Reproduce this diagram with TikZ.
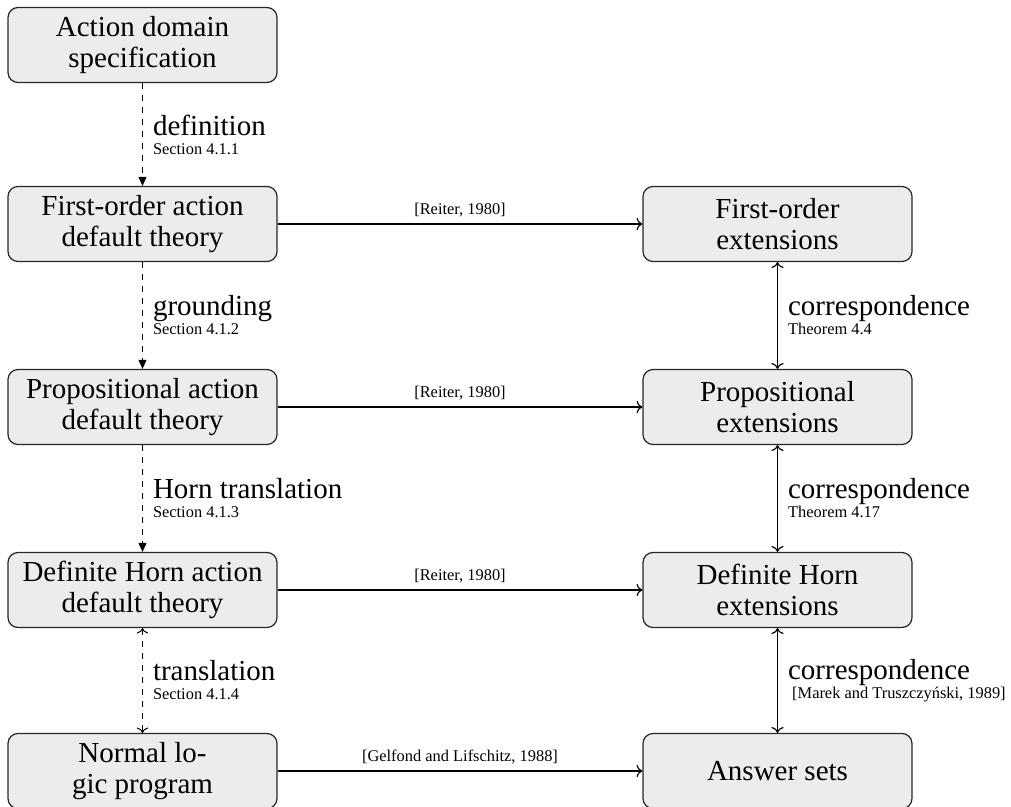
\documentclass[tikz,border=0pt]{standalone}
\usepackage{fontspec}
\setmainfont{Liberation Serif}
\usetikzlibrary{arrows.meta}

\newcommand{\bigtext}{\fontsize{14.5}{15.5}\selectfont}
\newcommand{\smalltext}{\fontsize{8.2}{9.5}\selectfont}
% two-line label: step name, then its reference
\newcommand{\steplabel}[2]{{\bigtext #1}\\{\smalltext #2}}

\tikzset{
  box/.style={draw=black!85, fill=gray!15, rounded corners=5pt, line width=0.6pt,
    minimum width=134.5pt, minimum height=37.5pt, align=center, inner sep=2pt, font=\bigtext},
  derive/.style={dashed, line width=0.5pt, -{Triangle[length=4.5pt,width=4pt]}},
  relates/.style={line width=0.6pt, ->},
  same/.style={line width=0.6pt, <->},
  steptext/.style={midway, right=5pt, align=left, inner sep=0pt, font=\smalltext},
  cite/.style={midway, above=3pt, inner sep=0pt, font=\smalltext}
}

\begin{document}
\begin{tikzpicture}[x=0.5pt, y=-0.5pt]
        \useasboundingbox (0,0) rectangle (1011,807);

        \def\lx{142.5}  % left column
        \def\rx{777.5}  % right column

        % Left column: theories
        \node[box] (adspec)     at (\lx,45)  {Action domain\\specification};
        \node[box] (fotheory)   at (\lx,224) {First-order action\\default theory};
        \node[box] (proptheory) at (\lx,407) {Propositional action\\default theory};
        \node[box] (horntheory) at (\lx,590) {Definite Horn action\\default theory};
        \node[box] (lprog)      at (\lx,771) {Normal lo-\\gic program};

        % Right column: extensions
        \node[box] (foext)   at (\rx,224) {First-order\\extensions};
        \node[box] (propext) at (\rx,407) {Propositional\\extensions};
        \node[box] (hornext) at (\rx,590) {Definite Horn\\extensions};
        \node[box] (answers) at (\rx,771) {Answer sets};

        % Translations down the left column
        \draw[derive] (adspec) -- (fotheory) node[steptext] {\steplabel{definition}{Section 4.1.1}};
        \draw[derive] (fotheory) -- (proptheory) node[steptext] {\steplabel{grounding}{Section 4.1.2}};
        \draw[derive] (proptheory) -- (horntheory) node[steptext] {\steplabel{Horn translation}{Section 4.1.3}};
        \draw[dashed, line width=0.5pt, <->] (horntheory) -- (lprog) node[steptext] {\steplabel{translation}{Section 4.1.4}};

        % Semantics
        \draw[relates] (fotheory) -- (foext) node[cite] {[Reiter, 1980]};
        \draw[relates] (proptheory) -- (propext) node[cite] {[Reiter, 1980]};
        \draw[relates] (horntheory) -- (hornext) node[cite] {[Reiter, 1980]};
        \draw[relates] (lprog) -- (answers) node[cite] {[Gelfond and Lifschitz, 1988]};

        % Correspondences
        \draw[same] (foext) -- (propext) node[steptext] {\steplabel{correspondence}{Theorem 4.4}};
        \draw[same] (propext) -- (hornext) node[steptext] {\steplabel{correspondence}{Theorem 4.17}};
        \draw[same] (hornext) -- (answers) node[steptext] {\steplabel{correspondence}{\ [Marek and Truszczyński, 1989]}};
\end{tikzpicture}
\end{document}
